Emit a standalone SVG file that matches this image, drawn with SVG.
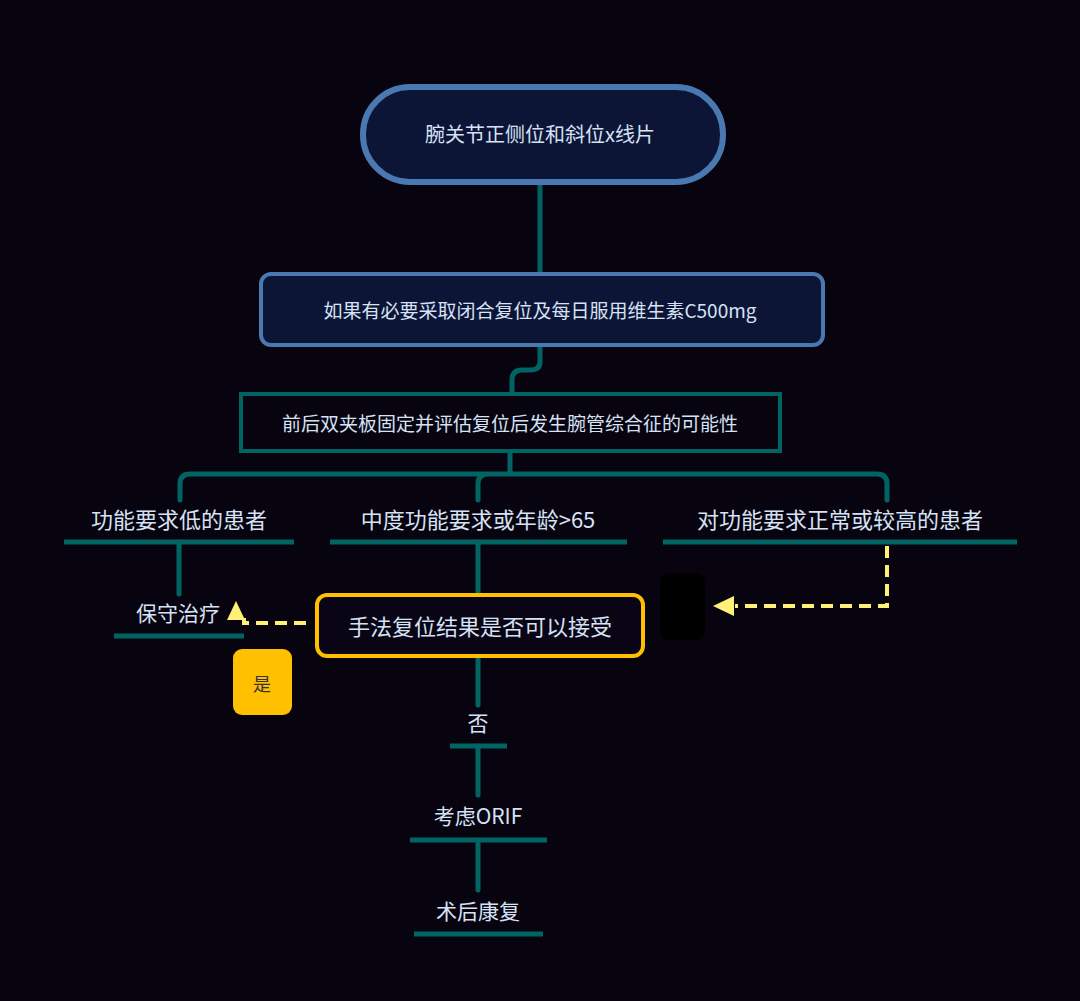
<svg xmlns="http://www.w3.org/2000/svg" width="1080" height="1001" viewBox="0 0 1080 1001">
<style>
text{font-family:"Noto Sans CJK SC","Noto Sans",sans-serif;fill:#d6e2f5;text-anchor:middle;dominant-baseline:central}
.c{stroke:#006462;stroke-width:5;fill:none;stroke-linecap:round}
.u{stroke:#006462;stroke-width:5;fill:none}
.d{stroke:#fff176;stroke-width:4;fill:none;stroke-dasharray:12 7}
</style>
<rect width="1080" height="1001" fill="#08040f"/>
<g id="connectors">
<path class="c" d="M540 183V272M540 346V362Q540 370 530 370H522Q512 370 512 380V393M510 452V474M180 500V484Q180 474 190 474H877Q887 474 887 484V500M478 500V484Q478 474 488 474"/>
<path class="c" d="M179 542V594M478 542V594M478 656V705M478 746V795M478 840V890"/>
<path class="u" d="M64 542H294M330 542H627M663 542H1017M114 636H244M450 746H507M410 840H547M414 934H543"/>
<path class="d" d="M306 623H244V618"/>
<polygon points="236,601 227,620 245,620" fill="#fff176"/>
<path class="d" d="M887 546V606H735"/>
<polygon points="713,606 734,596 734,616" fill="#fff176"/>
</g>
<g id="n1"><rect x="363" y="87" width="360" height="95" rx="47" fill="#0d1537" stroke="#4a78b0" stroke-width="6"/><text x="540" y="133" font-size="20">腕关节正侧位和斜位x线片</text></g>
<g id="n2"><rect x="261" y="274" width="562" height="71" rx="10" fill="#0d1537" stroke="#4a78b0" stroke-width="4"/><text x="540" y="309" font-size="19">如果有必要采取闭合复位及每日服用维生素C500mg</text></g>
<g id="n3"><rect x="241" y="394" width="539" height="57" fill="none" stroke="#006462" stroke-width="4"/><text x="510" y="422" font-size="19">前后双夹板固定并评估复位后发生腕管综合征的可能性</text></g>
<g id="n4"><text x="179" y="518" font-size="22">功能要求低的患者</text></g>
<g id="n5"><text x="478" y="518" font-size="22">中度功能要求或年龄&gt;65</text></g>
<g id="n6"><text x="840" y="518" font-size="22">对功能要求正常或较高的患者</text></g>
<g id="n7"><text x="178" y="612" font-size="21">保守治疗</text></g>
<g id="n8"><rect x="317" y="595" width="326" height="61" rx="10" fill="#0a0514" stroke="#ffc000" stroke-width="4"/><text x="480" y="625" font-size="22">手法复位结果是否可以接受</text></g>
<g id="n9"><rect x="233" y="649" width="59" height="66" rx="9" fill="#ffc000"/><text x="262" y="683" font-size="18" style="fill:#333">是</text></g>
<g id="n10"><rect x="660" y="573" width="45" height="67" rx="9" fill="#000"/></g>
<g id="n11"><text x="478" y="722" font-size="21">否</text></g>
<g id="n12"><text x="478" y="815" font-size="21">考虑ORIF</text></g>
<g id="n13"><text x="478" y="910" font-size="21">术后康复</text></g>
</svg>
